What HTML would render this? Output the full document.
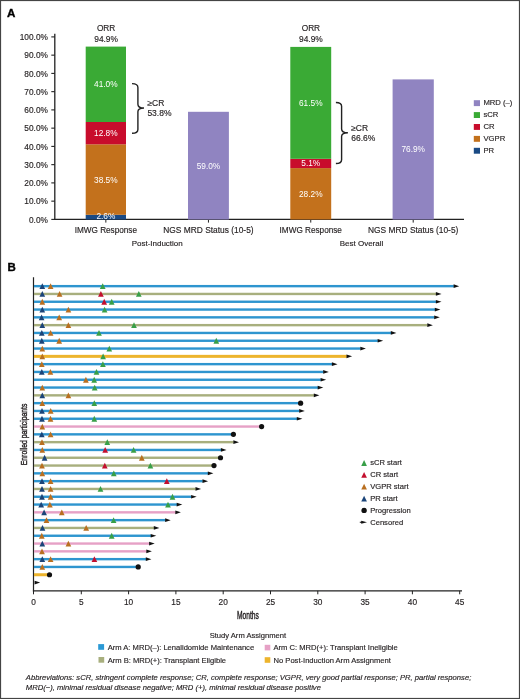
<!DOCTYPE html>
<html><head><meta charset="utf-8"><title>Figure</title>
<style>
html,body{margin:0;padding:0;background:#fff;}
body{width:520px;height:699px;overflow:hidden;position:relative;font-family:"Liberation Sans", sans-serif;}
svg{position:absolute;left:0;top:0;will-change:transform;}
svg text{font-family:"Liberation Sans", sans-serif;stroke-width:0.15px;}
</style></head>
<body>
<svg width="520" height="699" viewBox="0 0 520 699">
<rect x="0.5" y="0.5" width="519" height="698" fill="#fff" stroke="#444" stroke-width="1.2"/>
<text x="7.0" y="17.4" font-size="11.6" font-weight="bold" fill="#000" stroke="#000" style="stroke-width:0.35px">A</text>
<line x1="54.8" y1="33.8" x2="54.8" y2="220" stroke="#222" stroke-width="1.3"/>
<line x1="51.3" y1="219.4" x2="54.8" y2="219.4" stroke="#222" stroke-width="1.1"/>
<text x="47.9" y="222.5" font-size="8.3" text-anchor="end" fill="#231f20" stroke="#231f20">0.0%</text>
<line x1="51.3" y1="201.15" x2="54.8" y2="201.15" stroke="#222" stroke-width="1.1"/>
<text x="47.9" y="204.25" font-size="8.3" text-anchor="end" fill="#231f20" stroke="#231f20">10.0%</text>
<line x1="51.3" y1="182.9" x2="54.8" y2="182.9" stroke="#222" stroke-width="1.1"/>
<text x="47.9" y="186" font-size="8.3" text-anchor="end" fill="#231f20" stroke="#231f20">20.0%</text>
<line x1="51.3" y1="164.65" x2="54.8" y2="164.65" stroke="#222" stroke-width="1.1"/>
<text x="47.9" y="167.75" font-size="8.3" text-anchor="end" fill="#231f20" stroke="#231f20">30.0%</text>
<line x1="51.3" y1="146.4" x2="54.8" y2="146.4" stroke="#222" stroke-width="1.1"/>
<text x="47.9" y="149.5" font-size="8.3" text-anchor="end" fill="#231f20" stroke="#231f20">40.0%</text>
<line x1="51.3" y1="128.15" x2="54.8" y2="128.15" stroke="#222" stroke-width="1.1"/>
<text x="47.9" y="131.25" font-size="8.3" text-anchor="end" fill="#231f20" stroke="#231f20">50.0%</text>
<line x1="51.3" y1="109.9" x2="54.8" y2="109.9" stroke="#222" stroke-width="1.1"/>
<text x="47.9" y="113" font-size="8.3" text-anchor="end" fill="#231f20" stroke="#231f20">60.0%</text>
<line x1="51.3" y1="91.65" x2="54.8" y2="91.65" stroke="#222" stroke-width="1.1"/>
<text x="47.9" y="94.75" font-size="8.3" text-anchor="end" fill="#231f20" stroke="#231f20">70.0%</text>
<line x1="51.3" y1="73.4" x2="54.8" y2="73.4" stroke="#222" stroke-width="1.1"/>
<text x="47.9" y="76.5" font-size="8.3" text-anchor="end" fill="#231f20" stroke="#231f20">80.0%</text>
<line x1="51.3" y1="55.15" x2="54.8" y2="55.15" stroke="#222" stroke-width="1.1"/>
<text x="47.9" y="58.25" font-size="8.3" text-anchor="end" fill="#231f20" stroke="#231f20">90.0%</text>
<line x1="51.3" y1="36.9" x2="54.8" y2="36.9" stroke="#222" stroke-width="1.1"/>
<text x="47.9" y="40" font-size="8.3" text-anchor="end" fill="#231f20" stroke="#231f20">100.0%</text>
<line x1="54.2" y1="219.35" x2="464" y2="219.35" stroke="#222" stroke-width="1.3"/>
<line x1="105.85" y1="219.5" x2="105.85" y2="222.6" stroke="#222" stroke-width="1"/>
<line x1="208.45" y1="219.5" x2="208.45" y2="222.6" stroke="#222" stroke-width="1"/>
<line x1="310.75" y1="219.5" x2="310.75" y2="222.6" stroke="#222" stroke-width="1"/>
<line x1="413.2" y1="219.5" x2="413.2" y2="222.6" stroke="#222" stroke-width="1"/>
<rect x="85.7" y="214.8" width="40.3" height="4.7" fill="#1a4a84"/>
<rect x="85.7" y="144.3" width="40.3" height="70.5" fill="#c3711c"/>
<rect x="85.7" y="122" width="40.3" height="22.3" fill="#c80c2c"/>
<rect x="85.7" y="46.6" width="40.3" height="75.4" fill="#3aaa35"/>
<rect x="188" y="111.8" width="40.9" height="107.7" fill="#9084c1"/>
<rect x="290.3" y="168.1" width="40.9" height="51.4" fill="#c3711c"/>
<rect x="290.3" y="158.8" width="40.9" height="9.3" fill="#c80c2c"/>
<rect x="290.3" y="46.9" width="40.9" height="111.9" fill="#3aaa35"/>
<rect x="392.6" y="79.4" width="41.2" height="140.1" fill="#9084c1"/>
<text x="105.85" y="86.5" font-size="8.3" text-anchor="middle" fill="#fff"  >41.0%</text>
<text x="105.85" y="136" font-size="8.3" text-anchor="middle" fill="#fff"  >12.8%</text>
<text x="105.85" y="182.6" font-size="8.3" text-anchor="middle" fill="#fff"  >38.5%</text>
<text x="105.85" y="218.7" font-size="8.3" text-anchor="middle" fill="#fff"  >2.6%</text>
<text x="208.45" y="168.8" font-size="8.3" text-anchor="middle" fill="#fff"  >59.0%</text>
<text x="310.75" y="106" font-size="8.3" text-anchor="middle" fill="#fff"  >61.5%</text>
<text x="310.75" y="166" font-size="8.3" text-anchor="middle" fill="#fff"  >5.1%</text>
<text x="310.75" y="197.1" font-size="8.3" text-anchor="middle" fill="#fff"  >28.2%</text>
<text x="413.2" y="152.3" font-size="8.3" text-anchor="middle" fill="#fff"  >76.9%</text>
<text x="106.1" y="31.1" font-size="8.3" text-anchor="middle" fill="#231f20" stroke="#231f20" >ORR</text>
<text x="106.1" y="41.5" font-size="8.4" text-anchor="middle" fill="#231f20" stroke="#231f20" >94.9%</text>
<text x="310.9" y="31.1" font-size="8.3" text-anchor="middle" fill="#231f20" stroke="#231f20" >ORR</text>
<text x="310.9" y="41.5" font-size="8.4" text-anchor="middle" fill="#231f20" stroke="#231f20" >94.9%</text>
<path d="M132.0,83.6 Q137.9,83.6 137.9,87.39999999999999 L137.9,104.2 Q137.9,108.0 144.0,108.0 Q137.9,108.0 137.9,111.8 L137.9,129.39999999999998 Q137.9,133.2 132.0,133.2" fill="none" stroke="#222" stroke-width="1.4"/>
<path d="M335.9,102.5 Q341.6,102.5 341.6,106.3 L341.6,129.0 Q341.6,132.8 347.9,132.8 Q341.6,132.8 341.6,136.60000000000002 L341.6,159.7 Q341.6,163.5 335.9,163.5" fill="none" stroke="#222" stroke-width="1.4"/>
<text x="147.4" y="106.4" font-size="8.5" text-anchor="start" fill="#231f20" stroke="#231f20" >≥CR</text>
<text x="147.4" y="116.3" font-size="8.5" text-anchor="start" fill="#231f20" stroke="#231f20" >53.8%</text>
<text x="351.2" y="131" font-size="8.5" text-anchor="start" fill="#231f20" stroke="#231f20" >≥CR</text>
<text x="351.2" y="141.1" font-size="8.5" text-anchor="start" fill="#231f20" stroke="#231f20" >66.6%</text>
<text x="105.85" y="233.2" font-size="8.2" text-anchor="middle" fill="#231f20" stroke="#231f20" >IMWG Response</text>
<text x="310.75" y="233.2" font-size="8.2" text-anchor="middle" fill="#231f20" stroke="#231f20" >IMWG Response</text>
<text x="208.45" y="233.4" font-size="8.4" text-anchor="middle" fill="#231f20" stroke="#231f20" >NGS MRD Status (10-5)</text>
<text x="413.2" y="233.4" font-size="8.4" text-anchor="middle" fill="#231f20" stroke="#231f20" >NGS MRD Status (10-5)</text>
<text x="157.2" y="245.8" font-size="8.0" text-anchor="middle" fill="#231f20" stroke="#231f20" >Post-Induction</text>
<text x="361.5" y="245.8" font-size="8.0" text-anchor="middle" fill="#231f20" stroke="#231f20" >Best Overall</text>
<rect x="473.8" y="100.2" width="6.2" height="5.9" fill="#9084c1"/>
<text x="483.4" y="105.3" font-size="7.7" text-anchor="start" fill="#231f20" stroke="#231f20" >MRD (–)</text>
<rect x="473.8" y="112.1" width="6.2" height="5.9" fill="#3aaa35"/>
<text x="483.4" y="117.2" font-size="7.7" text-anchor="start" fill="#231f20" stroke="#231f20" >sCR</text>
<rect x="473.8" y="124" width="6.2" height="5.9" fill="#c80c2c"/>
<text x="483.4" y="129.1" font-size="7.7" text-anchor="start" fill="#231f20" stroke="#231f20" >CR</text>
<rect x="473.8" y="135.9" width="6.2" height="5.9" fill="#c3711c"/>
<text x="483.4" y="141" font-size="7.7" text-anchor="start" fill="#231f20" stroke="#231f20" >VGPR</text>
<rect x="473.8" y="147.8" width="6.2" height="5.9" fill="#1a4a84"/>
<text x="483.4" y="152.9" font-size="7.7" text-anchor="start" fill="#231f20" stroke="#231f20" >PR</text>
<text x="7.4" y="271.4" font-size="11.5" font-weight="bold" fill="#000" stroke="#000" style="stroke-width:0.35px">B</text>
<line x1="33.5" y1="277.3" x2="33.5" y2="591.4" stroke="#222" stroke-width="1.2"/>
<line x1="32.9" y1="590.8" x2="462" y2="590.8" stroke="#222" stroke-width="1.3"/>
<line x1="33.5" y1="590.8" x2="33.5" y2="594.3" stroke="#222" stroke-width="1"/>
<text x="33.5" y="604.8" font-size="8.3" text-anchor="middle" fill="#231f20" stroke="#231f20" >0</text>
<line x1="81.3" y1="590.8" x2="81.3" y2="594.3" stroke="#222" stroke-width="1"/>
<text x="81.3" y="604.8" font-size="8.3" text-anchor="middle" fill="#231f20" stroke="#231f20" >5</text>
<line x1="128.6" y1="590.8" x2="128.6" y2="594.3" stroke="#222" stroke-width="1"/>
<text x="128.6" y="604.8" font-size="8.3" text-anchor="middle" fill="#231f20" stroke="#231f20" >10</text>
<line x1="175.9" y1="590.8" x2="175.9" y2="594.3" stroke="#222" stroke-width="1"/>
<text x="175.9" y="604.8" font-size="8.3" text-anchor="middle" fill="#231f20" stroke="#231f20" >15</text>
<line x1="223.2" y1="590.8" x2="223.2" y2="594.3" stroke="#222" stroke-width="1"/>
<text x="223.2" y="604.8" font-size="8.3" text-anchor="middle" fill="#231f20" stroke="#231f20" >20</text>
<line x1="270.5" y1="590.8" x2="270.5" y2="594.3" stroke="#222" stroke-width="1"/>
<text x="270.5" y="604.8" font-size="8.3" text-anchor="middle" fill="#231f20" stroke="#231f20" >25</text>
<line x1="317.8" y1="590.8" x2="317.8" y2="594.3" stroke="#222" stroke-width="1"/>
<text x="317.8" y="604.8" font-size="8.3" text-anchor="middle" fill="#231f20" stroke="#231f20" >30</text>
<line x1="365.1" y1="590.8" x2="365.1" y2="594.3" stroke="#222" stroke-width="1"/>
<text x="365.1" y="604.8" font-size="8.3" text-anchor="middle" fill="#231f20" stroke="#231f20" >35</text>
<line x1="412.4" y1="590.8" x2="412.4" y2="594.3" stroke="#222" stroke-width="1"/>
<text x="412.4" y="604.8" font-size="8.3" text-anchor="middle" fill="#231f20" stroke="#231f20" >40</text>
<line x1="459.7" y1="590.8" x2="459.7" y2="594.3" stroke="#222" stroke-width="1"/>
<text x="459.7" y="604.8" font-size="8.3" text-anchor="middle" fill="#231f20" stroke="#231f20" >45</text>
<text x="0" y="0" font-size="10.2" fill="#231f20" stroke="#231f20" style="stroke-width:0.4px" transform="translate(236.9 618.7) scale(0.655 1)">Months</text>
<text x="0" y="0" font-size="9.8" text-anchor="middle" fill="#231f20" stroke="#231f20" style="stroke-width:0.4px" transform="translate(26.9 434.4) rotate(-90) scale(0.695 1)">Enrolled participants</text>
<rect x="34" y="284.95" width="419.9" height="2.4" fill="#2e95cf"/>
<rect x="34" y="292.75" width="402.2" height="2.4" fill="#a8af7e"/>
<rect x="34" y="300.55" width="402.2" height="2.4" fill="#2e95cf"/>
<rect x="34" y="308.35" width="401.1" height="2.4" fill="#2e95cf"/>
<rect x="34" y="316.15" width="400.5" height="2.4" fill="#2e95cf"/>
<rect x="34" y="323.95" width="393.6" height="2.4" fill="#a8af7e"/>
<rect x="34" y="331.75" width="357.1" height="2.4" fill="#2e95cf"/>
<rect x="34" y="339.55" width="343.9" height="2.4" fill="#2e95cf"/>
<rect x="34" y="347.35" width="326.6" height="2.4" fill="#2e95cf"/>
<rect x="34" y="354.85" width="312.8" height="3" fill="#edb42c"/>
<rect x="34" y="362.95" width="298.2" height="2.4" fill="#2e95cf"/>
<rect x="34" y="370.75" width="289.5" height="2.4" fill="#2e95cf"/>
<rect x="34" y="378.55" width="286.9" height="2.4" fill="#2e95cf"/>
<rect x="34" y="386.35" width="284" height="2.4" fill="#2e95cf"/>
<rect x="34" y="394.15" width="280.1" height="2.4" fill="#a8af7e"/>
<rect x="34" y="401.95" width="266.6" height="2.4" fill="#2e95cf"/>
<rect x="34" y="409.75" width="265.5" height="2.4" fill="#2e95cf"/>
<rect x="34" y="417.55" width="263.1" height="2.4" fill="#2e95cf"/>
<rect x="34" y="425.35" width="227.6" height="2.4" fill="#e6a1c6"/>
<rect x="34" y="433.15" width="199.4" height="2.4" fill="#2e95cf"/>
<rect x="34" y="440.95" width="199.7" height="2.4" fill="#a8af7e"/>
<rect x="34" y="448.75" width="187.2" height="2.4" fill="#2e95cf"/>
<rect x="34" y="456.55" width="186.5" height="2.4" fill="#a8af7e"/>
<rect x="34" y="464.35" width="180" height="2.4" fill="#a8af7e"/>
<rect x="34" y="472.15" width="174.1" height="2.4" fill="#2e95cf"/>
<rect x="34" y="479.95" width="168.8" height="2.4" fill="#2e95cf"/>
<rect x="34" y="487.75" width="161.8" height="2.4" fill="#a8af7e"/>
<rect x="34" y="495.55" width="157.4" height="2.4" fill="#2e95cf"/>
<rect x="34" y="503.35" width="143" height="2.4" fill="#2e95cf"/>
<rect x="34" y="511.15" width="141.6" height="2.4" fill="#e6a1c6"/>
<rect x="34" y="518.95" width="131.4" height="2.4" fill="#2e95cf"/>
<rect x="34" y="526.75" width="120.1" height="2.4" fill="#a8af7e"/>
<rect x="34" y="534.55" width="117" height="2.4" fill="#2e95cf"/>
<rect x="34" y="542.35" width="115.4" height="2.4" fill="#e6a1c6"/>
<rect x="34" y="550.15" width="112.6" height="2.4" fill="#e6a1c6"/>
<rect x="34" y="557.95" width="112.1" height="2.4" fill="#2e95cf"/>
<rect x="34" y="565.75" width="104.2" height="2.4" fill="#2e95cf"/>
<rect x="34" y="573.25" width="15.5" height="3" fill="#edb42c"/>
<path d="M453.6,284.3 L459.2,286.15 L453.6,288Z" fill="#111"/>
<path d="M435.9,292.1 L441.5,293.95 L435.9,295.8Z" fill="#111"/>
<path d="M435.9,299.9 L441.5,301.75 L435.9,303.6Z" fill="#111"/>
<path d="M434.8,307.7 L440.4,309.55 L434.8,311.4Z" fill="#111"/>
<path d="M434.2,315.5 L439.8,317.35 L434.2,319.2Z" fill="#111"/>
<path d="M427.3,323.3 L432.9,325.15 L427.3,327Z" fill="#111"/>
<path d="M390.8,331.1 L396.4,332.95 L390.8,334.8Z" fill="#111"/>
<path d="M377.6,338.9 L383.2,340.75 L377.6,342.6Z" fill="#111"/>
<path d="M360.3,346.7 L365.9,348.55 L360.3,350.4Z" fill="#111"/>
<path d="M346.5,354.5 L352.1,356.35 L346.5,358.2Z" fill="#111"/>
<path d="M331.9,362.3 L337.5,364.15 L331.9,366Z" fill="#111"/>
<path d="M323.2,370.1 L328.8,371.95 L323.2,373.8Z" fill="#111"/>
<path d="M320.6,377.9 L326.2,379.75 L320.6,381.6Z" fill="#111"/>
<path d="M317.7,385.7 L323.3,387.55 L317.7,389.4Z" fill="#111"/>
<path d="M313.8,393.5 L319.4,395.35 L313.8,397.2Z" fill="#111"/>
<circle cx="300.6" cy="403.15" r="2.6" fill="#111"/>
<path d="M299.2,409.1 L304.8,410.95 L299.2,412.8Z" fill="#111"/>
<path d="M296.8,416.9 L302.4,418.75 L296.8,420.6Z" fill="#111"/>
<circle cx="261.6" cy="426.55" r="2.6" fill="#111"/>
<circle cx="233.4" cy="434.35" r="2.6" fill="#111"/>
<path d="M233.4,440.3 L239,442.15 L233.4,444Z" fill="#111"/>
<path d="M220.9,448.1 L226.5,449.95 L220.9,451.8Z" fill="#111"/>
<circle cx="220.5" cy="457.75" r="2.6" fill="#111"/>
<circle cx="214" cy="465.55" r="2.6" fill="#111"/>
<path d="M207.8,471.5 L213.4,473.35 L207.8,475.2Z" fill="#111"/>
<path d="M202.5,479.3 L208.1,481.15 L202.5,483Z" fill="#111"/>
<path d="M195.5,487.1 L201.1,488.95 L195.5,490.8Z" fill="#111"/>
<path d="M191.1,494.9 L196.7,496.75 L191.1,498.6Z" fill="#111"/>
<path d="M176.7,502.7 L182.3,504.55 L176.7,506.4Z" fill="#111"/>
<path d="M175.3,510.5 L180.9,512.35 L175.3,514.2Z" fill="#111"/>
<path d="M165.1,518.3 L170.7,520.15 L165.1,522Z" fill="#111"/>
<path d="M153.8,526.1 L159.4,527.95 L153.8,529.8Z" fill="#111"/>
<path d="M150.7,533.9 L156.3,535.75 L150.7,537.6Z" fill="#111"/>
<path d="M149.1,541.7 L154.7,543.55 L149.1,545.4Z" fill="#111"/>
<path d="M146.3,549.5 L151.9,551.35 L146.3,553.2Z" fill="#111"/>
<path d="M145.8,557.3 L151.4,559.15 L145.8,561Z" fill="#111"/>
<circle cx="138.2" cy="566.95" r="2.6" fill="#111"/>
<circle cx="49.5" cy="574.75" r="2.6" fill="#111"/>
<path d="M34.55,580.7 L40.15,582.55 L34.55,584.4Z" fill="#111"/>
<path d="M39.45,289.05 L42.3,283.25 L45.15,289.05Z" fill="#1b4479"/>
<path d="M47.75,289.05 L50.6,283.25 L53.45,289.05Z" fill="#b96f20"/>
<path d="M99.85,289.05 L102.7,283.25 L105.55,289.05Z" fill="#389f48"/>
<path d="M39.45,296.85 L42.3,291.05 L45.15,296.85Z" fill="#1b4479"/>
<path d="M56.75,296.85 L59.6,291.05 L62.45,296.85Z" fill="#b96f20"/>
<path d="M98.05,296.85 L100.9,291.05 L103.75,296.85Z" fill="#c30f2e"/>
<path d="M135.95,296.85 L138.8,291.05 L141.65,296.85Z" fill="#389f48"/>
<path d="M39.45,304.65 L42.3,298.85 L45.15,304.65Z" fill="#b96f20"/>
<path d="M101.35,304.65 L104.2,298.85 L107.05,304.65Z" fill="#c30f2e"/>
<path d="M108.85,304.65 L111.7,298.85 L114.55,304.65Z" fill="#389f48"/>
<path d="M39.45,312.45 L42.3,306.65 L45.15,312.45Z" fill="#1b4479"/>
<path d="M65.55,312.45 L68.4,306.65 L71.25,312.45Z" fill="#b96f20"/>
<path d="M101.75,312.45 L104.6,306.65 L107.45,312.45Z" fill="#389f48"/>
<path d="M38.75,320.25 L41.6,314.45 L44.45,320.25Z" fill="#1b4479"/>
<path d="M56.35,320.25 L59.2,314.45 L62.05,320.25Z" fill="#b96f20"/>
<path d="M39.45,328.05 L42.3,322.25 L45.15,328.05Z" fill="#1b4479"/>
<path d="M65.55,328.05 L68.4,322.25 L71.25,328.05Z" fill="#b96f20"/>
<path d="M131.15,328.05 L134,322.25 L136.85,328.05Z" fill="#389f48"/>
<path d="M38.95,335.85 L41.8,330.05 L44.65,335.85Z" fill="#1b4479"/>
<path d="M47.75,335.85 L50.6,330.05 L53.45,335.85Z" fill="#b96f20"/>
<path d="M96.15,335.85 L99,330.05 L101.85,335.85Z" fill="#389f48"/>
<path d="M38.95,343.65 L41.8,337.85 L44.65,343.65Z" fill="#1b4479"/>
<path d="M56.35,343.65 L59.2,337.85 L62.05,343.65Z" fill="#b96f20"/>
<path d="M213.45,343.65 L216.3,337.85 L219.15,343.65Z" fill="#389f48"/>
<path d="M39.45,351.45 L42.3,345.65 L45.15,351.45Z" fill="#b96f20"/>
<path d="M106.45,351.45 L109.3,345.65 L112.15,351.45Z" fill="#389f48"/>
<path d="M39.45,359.25 L42.3,353.45 L45.15,359.25Z" fill="#b96f20"/>
<path d="M100.25,359.25 L103.1,353.45 L105.95,359.25Z" fill="#389f48"/>
<path d="M38.95,367.05 L41.8,361.25 L44.65,367.05Z" fill="#b96f20"/>
<path d="M100.05,367.05 L102.9,361.25 L105.75,367.05Z" fill="#389f48"/>
<path d="M38.95,374.85 L41.8,369.05 L44.65,374.85Z" fill="#1b4479"/>
<path d="M47.55,374.85 L50.4,369.05 L53.25,374.85Z" fill="#b96f20"/>
<path d="M93.65,374.85 L96.5,369.05 L99.35,374.85Z" fill="#389f48"/>
<path d="M83.05,382.65 L85.9,376.85 L88.75,382.65Z" fill="#b96f20"/>
<path d="M91.35,382.65 L94.2,376.85 L97.05,382.65Z" fill="#389f48"/>
<path d="M39.45,390.45 L42.3,384.65 L45.15,390.45Z" fill="#b96f20"/>
<path d="M91.85,390.45 L94.7,384.65 L97.55,390.45Z" fill="#389f48"/>
<path d="M39.45,398.25 L42.3,392.45 L45.15,398.25Z" fill="#1b4479"/>
<path d="M65.55,398.25 L68.4,392.45 L71.25,398.25Z" fill="#b96f20"/>
<path d="M39.45,406.05 L42.3,400.25 L45.15,406.05Z" fill="#b96f20"/>
<path d="M91.45,406.05 L94.3,400.25 L97.15,406.05Z" fill="#389f48"/>
<path d="M39.15,413.85 L42,408.05 L44.85,413.85Z" fill="#1b4479"/>
<path d="M47.85,413.85 L50.7,408.05 L53.55,413.85Z" fill="#b96f20"/>
<path d="M39.15,421.65 L42,415.85 L44.85,421.65Z" fill="#1b4479"/>
<path d="M47.65,421.65 L50.5,415.85 L53.35,421.65Z" fill="#b96f20"/>
<path d="M91.45,421.65 L94.3,415.85 L97.15,421.65Z" fill="#389f48"/>
<path d="M39.45,429.45 L42.3,423.65 L45.15,429.45Z" fill="#b96f20"/>
<path d="M38.95,437.25 L41.8,431.45 L44.65,437.25Z" fill="#1b4479"/>
<path d="M47.75,437.25 L50.6,431.45 L53.45,437.25Z" fill="#b96f20"/>
<path d="M39.15,445.05 L42,439.25 L44.85,445.05Z" fill="#b96f20"/>
<path d="M104.45,445.05 L107.3,439.25 L110.15,445.05Z" fill="#389f48"/>
<path d="M39.45,452.85 L42.3,447.05 L45.15,452.85Z" fill="#b96f20"/>
<path d="M102.35,452.85 L105.2,447.05 L108.05,452.85Z" fill="#c30f2e"/>
<path d="M130.75,452.85 L133.6,447.05 L136.45,452.85Z" fill="#389f48"/>
<path d="M41.75,460.65 L44.6,454.85 L47.45,460.65Z" fill="#1b4479"/>
<path d="M138.95,460.65 L141.8,454.85 L144.65,460.65Z" fill="#b96f20"/>
<path d="M39.15,468.45 L42,462.65 L44.85,468.45Z" fill="#b96f20"/>
<path d="M101.95,468.45 L104.8,462.65 L107.65,468.45Z" fill="#c30f2e"/>
<path d="M147.55,468.45 L150.4,462.65 L153.25,468.45Z" fill="#389f48"/>
<path d="M39.45,476.25 L42.3,470.45 L45.15,476.25Z" fill="#b96f20"/>
<path d="M110.95,476.25 L113.8,470.45 L116.65,476.25Z" fill="#389f48"/>
<path d="M39.15,484.05 L42,478.25 L44.85,484.05Z" fill="#1b4479"/>
<path d="M47.75,484.05 L50.6,478.25 L53.45,484.05Z" fill="#b96f20"/>
<path d="M163.95,484.05 L166.8,478.25 L169.65,484.05Z" fill="#c30f2e"/>
<path d="M39.15,491.85 L42,486.05 L44.85,491.85Z" fill="#1b4479"/>
<path d="M47.75,491.85 L50.6,486.05 L53.45,491.85Z" fill="#b96f20"/>
<path d="M97.65,491.85 L100.5,486.05 L103.35,491.85Z" fill="#389f48"/>
<path d="M39.15,499.65 L42,493.85 L44.85,499.65Z" fill="#1b4479"/>
<path d="M47.75,499.65 L50.6,493.85 L53.45,499.65Z" fill="#b96f20"/>
<path d="M169.65,499.65 L172.5,493.85 L175.35,499.65Z" fill="#389f48"/>
<path d="M38.35,507.45 L41.2,501.65 L44.05,507.45Z" fill="#1b4479"/>
<path d="M47.05,507.45 L49.9,501.65 L52.75,507.45Z" fill="#b96f20"/>
<path d="M165.15,507.45 L168,501.65 L170.85,507.45Z" fill="#389f48"/>
<path d="M41.25,515.25 L44.1,509.45 L46.95,515.25Z" fill="#1b4479"/>
<path d="M58.95,515.25 L61.8,509.45 L64.65,515.25Z" fill="#b96f20"/>
<path d="M43.65,523.05 L46.5,517.25 L49.35,523.05Z" fill="#b96f20"/>
<path d="M110.75,523.05 L113.6,517.25 L116.45,523.05Z" fill="#389f48"/>
<path d="M39.65,530.85 L42.5,525.05 L45.35,530.85Z" fill="#1b4479"/>
<path d="M83.35,530.85 L86.2,525.05 L89.05,530.85Z" fill="#b96f20"/>
<path d="M38.95,538.65 L41.8,532.85 L44.65,538.65Z" fill="#b96f20"/>
<path d="M108.85,538.65 L111.7,532.85 L114.55,538.65Z" fill="#389f48"/>
<path d="M39.45,546.45 L42.3,540.65 L45.15,546.45Z" fill="#1b4479"/>
<path d="M65.55,546.45 L68.4,540.65 L71.25,546.45Z" fill="#b96f20"/>
<path d="M39.15,554.25 L42,548.45 L44.85,554.25Z" fill="#b96f20"/>
<path d="M39.45,562.05 L42.3,556.25 L45.15,562.05Z" fill="#1b4479"/>
<path d="M47.75,562.05 L50.6,556.25 L53.45,562.05Z" fill="#b96f20"/>
<path d="M91.55,562.05 L94.4,556.25 L97.25,562.05Z" fill="#c30f2e"/>
<path d="M39.45,569.85 L42.3,564.05 L45.15,569.85Z" fill="#b96f20"/>
<path d="M361.25,465.9 L364.1,460.1 L366.95,465.9Z" fill="#389f48"/>
<text x="370.2" y="465.3" font-size="7.6" text-anchor="start" fill="#231f20" stroke="#231f20" >sCR start</text>
<path d="M361.25,477.75 L364.1,471.95 L366.95,477.75Z" fill="#c30f2e"/>
<text x="370.2" y="477.15" font-size="7.6" text-anchor="start" fill="#231f20" stroke="#231f20" >CR start</text>
<path d="M361.25,489.6 L364.1,483.8 L366.95,489.6Z" fill="#b96f20"/>
<text x="370.2" y="489" font-size="7.6" text-anchor="start" fill="#231f20" stroke="#231f20" >VGPR start</text>
<path d="M361.25,501.45 L364.1,495.65 L366.95,501.45Z" fill="#1b4479"/>
<text x="370.2" y="500.85" font-size="7.6" text-anchor="start" fill="#231f20" stroke="#231f20" >PR start</text>
<circle cx="364.1" cy="510.4" r="2.7" fill="#111"/>
<text x="370.2" y="512.7" font-size="7.6" text-anchor="start" fill="#231f20" stroke="#231f20" >Progression</text>
<line x1="359.8" y1="522.25" x2="362.5" y2="522.25" stroke="#111" stroke-width="1"/>
<path d="M361.2,520.85 L367.0,522.25 L361.2,523.65Z" fill="#111"/>
<text x="370.2" y="524.55" font-size="7.6" text-anchor="start" fill="#231f20" stroke="#231f20" >Censored</text>
<text x="247.9" y="638.1" font-size="7.6" text-anchor="middle" fill="#231f20" stroke="#231f20" >Study Arm Assignment</text>
<rect x="98.2" y="644.1" width="5.9" height="5.7" fill="#2a99d5"/>
<text x="107.7" y="649.7" font-size="7.6" text-anchor="start" fill="#231f20" stroke="#231f20" >Arm A: MRD(–): Lenalidomide Maintenance</text>
<rect x="98.5" y="657" width="5.7" height="5.7" fill="#a8af7e"/>
<text x="107.7" y="662.6" font-size="7.6" text-anchor="start" fill="#231f20" stroke="#231f20" >Arm B: MRD(+): Transplant Eligible</text>
<rect x="264.7" y="644.8" width="5.6" height="5.6" fill="#e6a1c6"/>
<text x="273.5" y="649.7" font-size="7.6" text-anchor="start" fill="#231f20" stroke="#231f20" >Arm C: MRD(+): Transplant Ineligible</text>
<rect x="264.7" y="657.2" width="5.6" height="5.6" fill="#edb42c"/>
<text x="273.5" y="662.6" font-size="7.6" text-anchor="start" fill="#231f20" stroke="#231f20" >No Post-Induction Arm Assignment</text>
<text x="25.8" y="680.4" font-size="7.65" text-anchor="start" fill="#231f20" stroke="#231f20" font-style="italic">Abbreviations: sCR, stringent complete response; CR, complete response; VGPR, very good partial response; PR, partial response;</text>
<text x="25.8" y="690.3" font-size="7.65" text-anchor="start" fill="#231f20" stroke="#231f20" font-style="italic">MRD(−), minimal residual disease negative; MRD (+), minimal residual disease positive</text>
</svg>
</body></html>
